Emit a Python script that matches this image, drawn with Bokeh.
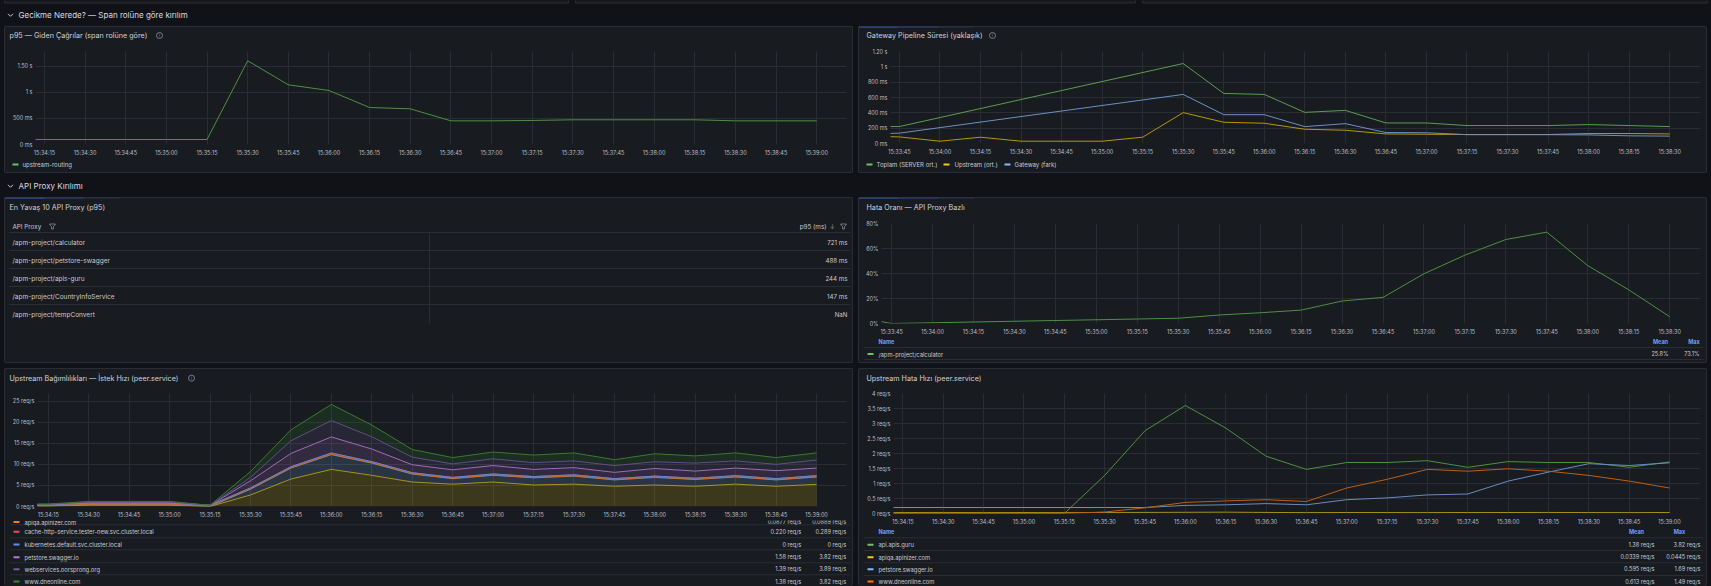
import numpy as np
from bokeh.plotting import figure
from bokeh.layouts import row, column
from bokeh.models import (Range1d, FixedTicker, CustomJSTickFormatter, Spacer,
                          GlobalInlineStyleSheet)
from bokeh.core.properties import value
from bokeh.embed import file_html
from bokeh.resources import INLINE

# ------------------------------------------------------------------ data
section_latency = "Gecikme Nerede? — Span rolüne göre kırılım"
section_proxy = "API Proxy Kırılımı"

# 15 s samples of the gateway window
times_a = ["15:33:30", "15:33:45", "15:34:00", "15:34:15", "15:34:30", "15:34:45",
           "15:35:00", "15:35:15", "15:35:30", "15:35:45", "15:36:00", "15:36:15",
           "15:36:30", "15:36:45", "15:37:00", "15:37:15", "15:37:30", "15:37:45",
           "15:38:00", "15:38:15", "15:38:30"]
# 15 s samples of the outgoing-call window
times_b = ["15:34:00", "15:34:15", "15:34:30", "15:34:45", "15:35:00", "15:35:15",
           "15:35:30", "15:35:45", "15:36:00", "15:36:15", "15:36:30", "15:36:45",
           "15:37:00", "15:37:15", "15:37:30", "15:37:45", "15:38:00", "15:38:15",
           "15:38:30", "15:38:45", "15:39:00"]

ticks_a = ["15:33:45", "15:34:00", "15:34:15", "15:34:30", "15:34:45", "15:35:00",
           "15:35:15", "15:35:30", "15:35:45", "15:36:00", "15:36:15", "15:36:30",
           "15:36:45", "15:37:00", "15:37:15", "15:37:30", "15:37:45", "15:38:00",
           "15:38:15", "15:38:30"]
ticks_b = ["15:34:15", "15:34:30", "15:34:45", "15:35:00", "15:35:15", "15:35:30",
           "15:35:45", "15:36:00", "15:36:15", "15:36:30", "15:36:45", "15:37:00",
           "15:37:15", "15:37:30", "15:37:45", "15:38:00", "15:38:15", "15:38:30",
           "15:38:45", "15:39:00"]

# p95 of outgoing calls, ms (times_b)
routing_p95_ms = [96, 96, 96, 96, 96, 96, 1610, 1148, 1038, 711, 686, 455, 455,
                  462, 475, 475, 475, 475, 455, 455, 455]

# gateway pipeline, ms (times_a); None = no sample, line bridges the gap
gw_total_ms = [221, 221, None, None, None, None, None, None, 1043, 653, 640, 406,
               432, 268, 268, 234, 234, 234, 247, 234, 221]
gw_upstream_ms = [100, 86, 30, 82, 30, 30, 30, 82, 403, 277, 264, 186, 173, 125,
                  121, 117, 117, 117, 130, 130, 125]
gw_gateway_ms = [121, 135, None, None, None, None, None, None, 640, 376, 376, 220,
                 259, 143, 140, 115, 115, 115, 112, 100, 96]

# slowest API proxies
proxy_names = ["/apm-project/calculator", "/apm-project/petstore-swagger",
               "/apm-project/apis-guru", "/apm-project/CountryInfoService",
               "/apm-project/tempConvert"]
proxy_p95_ms = [721, 488, 244, 147, None]

# error rate per proxy, %
err_times = ["15:33:30", "15:33:45", "15:35:30", "15:35:45", "15:36:00", "15:36:15",
             "15:36:30", "15:36:45", "15:37:00", "15:37:15", "15:37:30", "15:37:45",
             "15:38:00", "15:38:15", "15:38:30"]
err_calculator_pct = [6.0, 0.0, 4.2, 6.8, 8.6, 10.7, 18.0, 20.9, 39.8, 54.7, 67.2,
                      73.1, 46.3, 27.0, 5.5]
err_calculator_stats = ["25.8%", "73.1%"]

# upstream request rate by peer.service, req/s (times_b), stacked bottom -> top
rate_peer_a = [0.10, 0.10, 0.30, 0.30, 0.30, 0.00, 2.74, 6.50, 8.80, 7.40, 5.80,
               5.30, 5.80, 5.10, 5.30, 4.80, 5.10, 4.80, 5.30, 4.80, 5.25]
rate_peer_b = [0.05, 0.05, 0.15, 0.15, 0.15, 0.00, 1.36, 2.60, 3.50, 2.90, 1.90,
               1.30, 1.60, 1.70, 1.90, 1.50, 1.80, 1.60, 1.70, 1.50, 1.75]
rate_apiqa = [0.08, 0.08, 0.09, 0.09, 0.09, 0.08, 0.08, 0.09, 0.09, 0.09, 0.09,
              0.09, 0.09, 0.09, 0.09, 0.09, 0.09, 0.09, 0.09, 0.09, 0.09]
rate_cache = [0.20, 0.20, 0.22, 0.22, 0.22, 0.20, 0.21, 0.23, 0.289, 0.24, 0.22,
              0.21, 0.22, 0.21, 0.22, 0.21, 0.22, 0.21, 0.22, 0.21, 0.22]
rate_kubernetes = [0.0] * 21
rate_petstore = [0.05, 0.05, 0.15, 0.15, 0.15, 0.00, 1.70, 3.16, 3.82, 3.00, 1.90,
                 1.80, 2.00, 1.70, 1.70, 1.50, 1.80, 1.70, 1.80, 1.90, 1.80]
rate_webservices = [0.05, 0.05, 0.15, 0.15, 0.15, 0.00, 0.80, 3.00, 3.89, 2.90, 1.80,
                    1.40, 1.60, 1.60, 1.60, 1.60, 1.60, 1.90, 1.70, 1.50, 1.90]
rate_dneonline = [0.05, 0.05, 0.15, 0.15, 0.15, 0.00, 1.40, 2.60, 3.82, 2.80, 1.80,
                  1.50, 1.60, 1.80, 1.90, 1.40, 1.90, 1.70, 1.90, 1.60, 1.70]
rate_legend_names = ["apiqa.apinizer.com", "cache-http-service.tester-new.svc.cluster.local",
                     "kubernetes.default.svc.cluster.local", "petstore.swagger.io",
                     "webservices.oorsprong.org", "www.dneonline.com"]
rate_legend_mean = ["0.0877 req/s", "0.220 req/s", "0 req/s", "1.58 req/s",
                    "1.39 req/s", "1.38 req/s"]
rate_legend_max = ["0.0889 req/s", "0.289 req/s", "0 req/s", "3.82 req/s",
                   "3.89 req/s", "3.82 req/s"]

# upstream error rate by peer.service, req/s (times_b)
uerr_names = ["api.apis.guru", "apiqa.apinizer.com", "petstore.swagger.io", "www.dneonline.com"]
uerr_api_guru = [0, 0, 0, 0, 0, 0, 1.27, 2.76, 3.60, 2.85, 1.91, 1.47, 1.70, 1.70,
                 1.76, 1.54, 1.73, 1.70, 1.70, 1.54, 1.72]
uerr_apiqa = [0.030, 0.032, 0.035, 0.030, 0.033, 0.030, 0.034, 0.036, 0.040, 0.0445,
              0.035, 0.030, 0.033, 0.032, 0.030, 0.034, 0.033, 0.035, 0.031, 0.030, 0.034]
uerr_petstore = [0.20, 0.20, 0.20, 0.20, 0.20, 0.20, 0.20, 0.20, 0.27, 0.29, 0.33,
                 0.29, 0.46, 0.52, 0.62, 0.65, 1.08, 1.38, 1.66, 1.60, 1.69]
uerr_dneonline = [0, 0, 0, 0, 0, 0, 0.05, 0.19, 0.37, 0.42, 0.46, 0.40, 0.85, 1.14,
                  1.47, 1.41, 1.49, 1.41, 1.27, 1.08, 0.85]
uerr_mean = ["1.38 req/s", "0.0339 req/s", "0.595 req/s", "0.613 req/s"]
uerr_max = ["3.82 req/s", "0.0445 req/s", "1.69 req/s", "1.49 req/s"]

# ------------------------------------------------------------------ theme
FONT = "Inter"
PAGE_BG = "#111217"
PANEL_BG = "#181b1f"
BORDER = "#2a2d34"
GRID = "#2a2d33"
TITLE_C = "#d0d1dc"
TEXT_C = "#c9cad4"
AXIS_C = "#bcbec8"
HEAD_C = "#6e9fff"
ICON_C = "#8e909a"
ACCENT = "#3d71d9"

PW = 849  # panel width


def secs(t):
    h, m, s = (int(v) for v in t.split(":"))
    return h * 3600 + m * 60 + s


def label_formatter(positions, labels):
    return CustomJSTickFormatter(args=dict(tick_pos=list(positions), tick_text=list(labels)), code="""
        for (let i = 0; i < tick_pos.length; i++) {
            if (Math.abs(tick_pos[i] - tick) < 1e-6) { return tick_text[i]; }
        }
        return "";
    """)


def text_fig(w, h):
    p = figure(width=w, height=h, x_range=Range1d(0, w), y_range=Range1d(h, 0),
               x_axis_location=None, y_axis_location=None, min_border=0,
               toolbar_location=None, output_backend="svg")
    p.frame_align = False
    p.grid.visible = False
    p.outline_line_color = None
    p.background_fill_color = None
    p.border_fill_color = None
    return p


def tx(p, x, y, s, size=6.0, color=TEXT_C, align="left", style="normal"):
    p.text(x=[x], y=[y], text=[s], text_font=value(FONT),
           text_font_size=value(f"{size}px"), text_color=color,
           text_align=align, text_baseline="middle", text_font_style=style)


def hline(p, x0, x1, y, color=BORDER):
    p.segment(x0=[x0], y0=[y], x1=[x1], y1=[y], line_color=color, line_width=1)


def chevron(p, x, y):
    p.line(x=[x - 2.5, x, x + 2.5], y=[y - 1.2, y + 1.3, y - 1.2],
           line_color=TEXT_C, line_width=1)


def info_icon(p, x, y):
    p.scatter(x=[x], y=[y], size=6, marker="circle", fill_color=None,
              line_color=ICON_C, line_width=0.8)
    tx(p, x, y + 0.2, "i", 4, ICON_C, "center")


def funnel(p, x, y):
    p.patch(x=[x - 3, x + 3, x + 0.9, x + 0.9, x - 0.9, x - 0.9],
            y=[y - 2.5, y - 2.5, y + 0.3, y + 2.5, y + 2.5, y + 0.3],
            fill_color=None, line_color=ICON_C, line_width=0.8)


def accent(p):
    for x0, x1, a in [(0, 40, 0.9), (40, 80, 0.6), (80, 115, 0.3)]:
        p.segment(x0=[x0], y0=[0.5], x1=[x1], y1=[0.5], line_color=ACCENT,
                  line_alpha=a, line_width=1)


def header(h, title, tx_x, ty, icon_x=None, with_accent=False):
    p = text_fig(PW, h)
    if with_accent:
        accent(p)
    tx(p, tx_x, ty, title, 7.2, TITLE_C)
    if icon_x is not None:
        info_icon(p, icon_x, ty)
    return p


def chart(h, left, right, top, bottom, xr, yr, xticks, yticks, ylabels):
    p = figure(width=PW, height=h, x_range=Range1d(*xr), y_range=Range1d(*yr),
               min_border_left=left, min_border_right=right,
               min_border_top=top, min_border_bottom=bottom,
               toolbar_location=None, output_backend="svg")
    p.frame_align = False
    p.background_fill_color = None
    p.border_fill_color = None
    p.outline_line_color = None
    xs = [secs(t) for t in xticks]
    p.xaxis.ticker = FixedTicker(ticks=xs)
    p.xaxis.formatter = label_formatter(xs, xticks)
    p.yaxis.ticker = FixedTicker(ticks=yticks)
    p.yaxis.formatter = label_formatter(yticks, ylabels)
    for ax in p.axis:
        ax.axis_line_color = None
        ax.major_tick_line_color = None
        ax.minor_tick_line_color = None
        ax.major_tick_out = 0
        ax.major_tick_in = 0
        ax.major_label_text_font = FONT
        ax.major_label_text_font_size = "5.5px"
        ax.major_label_text_color = AXIS_C
    p.xaxis.major_label_standoff = 5
    p.yaxis.major_label_standoff = 3
    p.grid.grid_line_color = GRID
    p.grid.grid_line_width = 1
    return p


def present(ts, vs):
    pts = [(secs(t), v) for t, v in zip(ts, vs) if v is not None]
    return [a for a, _ in pts], [b for _, b in pts]


def panel_box(children, h, open_bottom=False):
    if open_bottom:
        shadow = f"inset 1px 1px 0 0 {BORDER}, inset -1px 0 0 0 {BORDER}"
    else:
        shadow = f"inset 0 0 0 1px {BORDER}"
    return column(*children, width=PW, height=h,
                  styles={"background-color": PANEL_BG, "box-shadow": shadow,
                          "border-radius": "2px"})


def marker(p, x, y, color):
    p.quad(left=[x], right=[x + 6], top=[y - 1], bottom=[y + 1],
           fill_color=color, line_color=None)


# ------------------------------------------------------------------ section headers
sec1 = text_fig(1711, 26)
sec1.quad(left=[4, 575, 1142], right=[568, 1135, 1707], top=[-3, -3, -3],
          bottom=[2.5, 2.5, 2.5], fill_color=PANEL_BG, line_color=BORDER)
chevron(sec1, 10, 14.5)
tx(sec1, 18, 14, section_latency, 8, "#d8d9e0")

sec2 = text_fig(1711, 24)
chevron(sec2, 10, 12.5)
tx(sec2, 18, 12, section_proxy, 8, "#d8d9e0")

# ------------------------------------------------------------------ p95 — Giden Çağrılar
p1h = header(18, "p95 — Giden Çağrılar (span rolüne göre)", 5, 9, icon_x=155)
p1 = chart(114, 31, 7, 7, 14, (secs("15:34:11") + 0.7, secs("15:39:11")),
           (0, 1788), ticks_b, [0, 500, 1000, 1500], ["0 ms", "500 ms", "1 s", "1.50 s"])
p1.line([secs(t) for t in times_b], routing_p95_ms, line_color="#4f8f45", line_width=1)
p1l = text_fig(PW, 15)
marker(p1l, 8, 6, "#73BF69")
tx(p1l, 18, 6, "upstream-routing", 6)
panel1 = panel_box([p1h, p1, p1l], 147)

# ------------------------------------------------------------------ Gateway Pipeline
p2h = header(18, "Gateway Pipeline Süresi (yaklaşık)", 8, 9, icon_x=134, with_accent=True)
p2 = chart(114, 32, 7, 7, 15, (secs("15:33:41") + 0.7, secs("15:38:41") + 0.4),
           (0, 1200), ticks_a, [0, 200, 400, 600, 800, 1000, 1200],
           ["0 ms", "200 ms", "400 ms", "600 ms", "800 ms", "1 s", "1.20 s"])
for vals, col in [(gw_total_ms, "#5c9c51"), (gw_upstream_ms, "#b8960c"),
                  (gw_gateway_ms, "#6e8fc6")]:
    xs, ys = present(times_a, vals)
    p2.line(xs, ys, line_color=col, line_width=1)
p2l = text_fig(PW, 15)
for mx, tx_x, lab, col in [(8, 18, "Toplam (SERVER ort.)", "#73BF69"),
                           (85, 96, "Upstream (ort.)", "#F2CC0C"),
                           (146, 156, "Gateway (fark)", "#8AB8FF")]:
    marker(p2l, mx, 6, col)
    tx(p2l, tx_x, 6, lab, 6)
panel2 = panel_box([p2h, p2, p2l], 147)

# ------------------------------------------------------------------ table
tb = text_fig(PW, 166)
accent(tb)
tx(tb, 5, 10, "En Yavaş 10 API Proxy (p95)", 7.2, TITLE_C)
tx(tb, 8, 29, "API Proxy", 6.3, TEXT_C)
funnel(tb, 48, 29)
tx(tb, 822, 29, "p95 (ms)", 6.3, TEXT_C, "right")
tx(tb, 828, 29, "↓", 6.3, ICON_C, "center")
funnel(tb, 839, 29)
hline(tb, 5, 846, 35)
for i, (name, v) in enumerate(zip(proxy_names, proxy_p95_ms)):
    y = 45 + 18 * i
    tx(tb, 8, y, name, 6.5)
    tx(tb, 843, y, f"{v} ms" if v is not None else "NaN", 6.2, TEXT_C, "right")
    if i < len(proxy_names) - 1:
        hline(tb, 5, 846, y + 8)
tb.segment(x0=[425], y0=[35], x1=[425], y1=[126], line_color=BORDER, line_width=1)
panel3 = panel_box([tb], 166)

# ------------------------------------------------------------------ Hata Oranı
p4h = header(17, "Hata Oranı — API Proxy Bazlı", 8, 10, with_accent=True)
p4 = chart(123, 23, 7, 9, 12, (secs("15:33:41") + 0.3, secs("15:38:41") + 0.3),
           (0, 80), ticks_a, [0, 20, 40, 60, 80], ["0%", "20%", "40%", "60%", "80%"])
p4.line([secs(t) for t in err_times], err_calculator_pct, line_color="#4f8f45", line_width=1)
p4l = text_fig(PW, 26)
tx(p4l, 20, 4, "Name", 5.5, HEAD_C, style="bold")
tx(p4l, 802, 4, "Mean", 5.5, HEAD_C, "center", "bold")
tx(p4l, 835.5, 4, "Max", 5.5, HEAD_C, "center", "bold")
hline(p4l, 5, 845, 10)
hline(p4l, 5, 845, 22)
marker(p4l, 9, 16.5, "#73BF69")
tx(p4l, 20, 16.5, "/apm-project/calculator", 5.8)
tx(p4l, 810, 16.5, err_calculator_stats[0], 5.6, TEXT_C, "right")
tx(p4l, 841, 16.5, err_calculator_stats[1], 5.6, TEXT_C, "right")
panel4 = panel_box([p4h, p4, p4l], 166)

# ------------------------------------------------------------------ Upstream Bağımlılıkları (stacked)
p5h = header(18, "Upstream Bağımlılıkları — İstek Hızı (peer.service)", 5, 9.7, icon_x=187)
p5 = chart(134, 33, 7, 7, 12, (secs("15:34:11"), secs("15:39:11") + 0.1),
           (0, 26.8), ticks_b, [0, 5, 10, 15, 20, 25],
           ["0 req/s", "5 req/s", "10 req/s", "15 req/s", "20 req/s", "25 req/s"])
tb_x = np.array([secs(t) for t in times_b], dtype=float)
layers = [
    (rate_peer_a, "#F2CC0C", "#a99220"),
    (rate_peer_b, "#8AB8FF", "#6f8fc2"),
    (rate_apiqa, "#FF780A", "#cf6a1c"),
    (rate_cache, "#F2495C", "#c9586a"),
    (rate_kubernetes, "#5794F2", "#5f86c9"),
    (rate_petstore, "#B877D9", "#a06cbd"),
    (rate_webservices, "#705DA0", "#5e5088"),
    (rate_dneonline, "#37872D", "#3a7a30"),
]
base = np.zeros(len(tb_x))
tops = []
for vals, fill, line in layers:
    top = base + np.array(vals, dtype=float)
    p5.varea(x=tb_x, y1=base, y2=top, fill_color=fill, fill_alpha=0.17)
    tops.append((top, line))
    base = top
for top, line in tops:
    p5.line(tb_x, top, line_color=line, line_width=1)
p5l = text_fig(PW, 66)
rate_colors = ["#FF780A", "#F2495C", "#5794F2", "#B877D9", "#705DA0", "#37872D"]
row_y = [1.5, 11.3, 24, 36.7, 48.7, 61]
for y in [4.3, 17.3, 29.3, 42.3, 54.3]:
    hline(p5l, 5, 846, y)
for y, name, mean, mx, col in zip(row_y, rate_legend_names, rate_legend_mean,
                                  rate_legend_max, rate_colors):
    marker(p5l, 9, y, col)
    tx(p5l, 20, y, name, 5.8)
    tx(p5l, 796.7, y, mean, 5.6, TEXT_C, "right")
    tx(p5l, 841.7, y, mx, 5.6, TEXT_C, "right")
panel5 = panel_box([p5h, p5, p5l], 218, open_bottom=True)

# ------------------------------------------------------------------ Upstream Hata Hızı
p6h = header(18, "Upstream Hata Hızı (peer.service)", 8, 9.7)
p6 = chart(141, 35, 7, 7, 12, (secs("15:34:11") + 0.5, secs("15:39:11") + 0.5),
           (0, 4), ticks_b, [0, 0.5, 1, 1.5, 2, 2.5, 3, 3.5, 4],
           ["0 req/s", "0.5 req/s", "1 req/s", "1.5 req/s", "2 req/s", "2.5 req/s",
            "3 req/s", "3.5 req/s", "4 req/s"])
for vals, col in [(uerr_api_guru, "#4f8f45"), (uerr_apiqa, "#a88f12"),
                  (uerr_petstore, "#6c8ac0"), (uerr_dneonline, "#bd5f16")]:
    p6.line(tb_x, vals, line_color=col, line_width=1)
p6l = text_fig(PW, 59)
tx(p6l, 20, 4.7, "Name", 5.5, HEAD_C, style="bold")
tx(p6l, 778, 4.7, "Mean", 5.5, HEAD_C, "center", "bold")
tx(p6l, 821, 4.7, "Max", 5.5, HEAD_C, "center", "bold")
for y in [10.3, 23, 35.3, 48]:
    hline(p6l, 5, 845, y)
uerr_colors = ["#73BF69", "#F2CC0C", "#8AB8FF", "#FF780A"]
for y, name, mean, mx, col in zip([17.3, 29.7, 41.7, 54], uerr_names, uerr_mean,
                                  uerr_max, uerr_colors):
    marker(p6l, 9, y, col)
    tx(p6l, 20, y, name, 5.8)
    tx(p6l, 796, y, mean, 5.6, TEXT_C, "right")
    tx(p6l, 842, y, mx, 5.6, TEXT_C, "right")
panel6 = panel_box([p6h, p6, p6l], 218, open_bottom=True)


# ------------------------------------------------------------------ page
def panel_row(a, b, h):
    return row(Spacer(width=4, height=h), a, Spacer(width=5, height=h), b,
               Spacer(width=4, height=h))


root = column(
    sec1,
    panel_row(panel1, panel2, 147),
    sec2,
    panel_row(panel3, panel4, 166),
    Spacer(width=1711, height=5),
    panel_row(panel5, panel6, 218),
    width=1711, height=586,
    styles={"background-color": PAGE_BG},
    stylesheets=[GlobalInlineStyleSheet(
        css="html, body { margin: 0; padding: 0; background: #111217; overflow: hidden; }")],
)

open("out.html", "w").write(file_html(root, INLINE))
